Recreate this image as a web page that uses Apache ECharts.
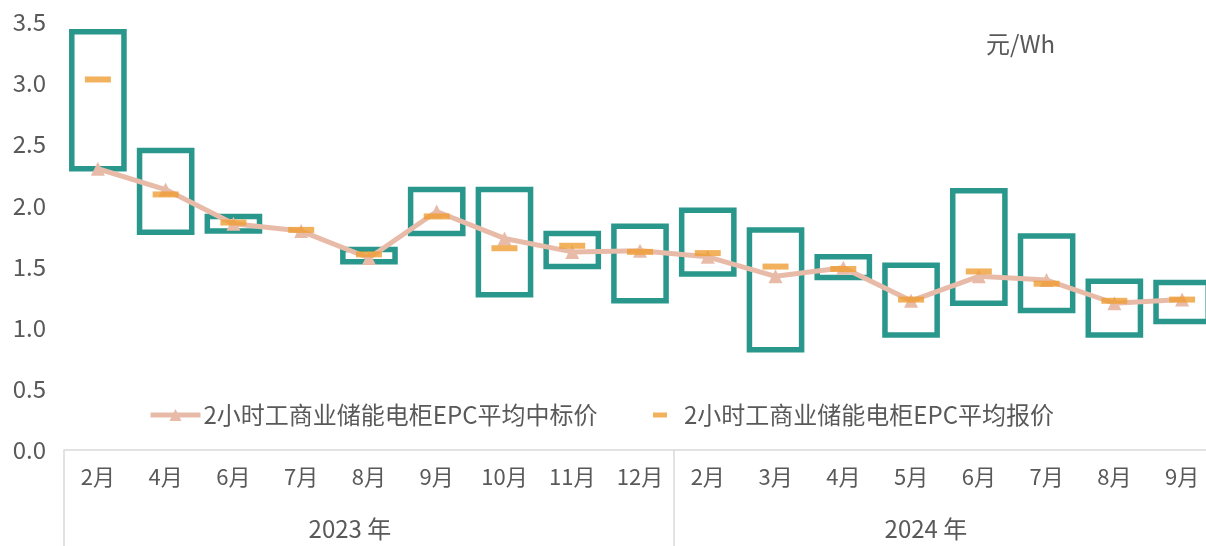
<!DOCTYPE html>
<html>
<head>
<meta charset="utf-8">
<script src="https://cdn.jsdelivr.net/npm/echarts@6/dist/echarts.min.js"></script>
<style>
  html, body { margin: 0; padding: 0; background: #fff; overflow: hidden; width: 1206px; height: 546px; }
  #chart { width: 1222px; height: 546px; }
</style>
</head>
<body>
<div id="chart"></div>
<script>
// ---- data ----
const months2023 = ['2月', '4月', '6月', '7月', '8月', '9月', '10月', '11月', '12月'];
const months2024 = ['2月', '3月', '4月', '5月', '6月', '7月', '8月', '9月'];
const yearLabels = ['2023 年', '2024 年'];
const rangeMax = [3.42, 2.45, 1.91, null, 1.64, 2.13, 2.13, 1.77, 1.83, 1.96, 1.80, 1.58, 1.51, 2.12, 1.75, 1.38, 1.37];
const rangeMin = [2.30, 1.78, 1.79, null, 1.54, 1.77, 1.27, 1.50, 1.22, 1.44, 0.82, 1.41, 0.94, 1.20, 1.14, 0.94, 1.05];
const avgBid   = [2.30, 2.13, 1.85, 1.79, 1.57, 1.95, 1.73, 1.62, 1.63, 1.58, 1.42, 1.49, 1.22, 1.42, 1.39, 1.20, 1.23];
const avgQuote = [3.03, 2.09, 1.86, 1.80, 1.60, 1.91, 1.65, 1.67, 1.62, 1.61, 1.50, 1.48, 1.23, 1.46, 1.36, 1.22, 1.23];
const bidName = '2小时工商业储能电柜EPC平均中标价';
const quoteName = '2小时工商业储能电柜EPC平均报价';
const unitText = '元/Wh';

// ---- derived ----
const categories = months2023.concat(months2024);
const groupSizes = [months2023.length, months2024.length];
const groupBounds = [0];
groupSizes.forEach(n => groupBounds.push(groupBounds[groupBounds.length - 1] + n));
const groupCenters = groupSizes.map((n, i) => groupBounds[i] + n / 2);
const boxData = categories.map((c, i) => [i, rangeMin[i], rangeMax[i]]);

const FONT = '"Noto Sans CJK SC", "Noto Sans", sans-serif';
const TXT = '#595959';
const TEAL = '#2A978C';
const ORANGE = '#EF9D33';
const PINK = '#E8BBA9';

const chart = echarts.init(document.getElementById('chart'), null, { renderer: 'canvas' });
chart.setOption({
  backgroundColor: '#fff',
  animation: false,
  textStyle: { fontFamily: FONT },
  title: {
    text: unitText, left: 981, top: 27,
    textStyle: { fontFamily: FONT, fontSize: 24, fontWeight: 'normal', color: TXT }
  },
  grid: { left: 64, top: 22, width: 1152, height: 428, containLabel: false },
  legend: [
    {
      data: [bidName], left: 143, top: 398, itemWidth: 50, itemHeight: 15,
      lineStyle: { width: 5, color: PINK },
      itemStyle: { color: PINK },
      textStyle: { fontFamily: FONT, fontSize: 24, color: TXT, padding: [0, 0, 0, -2] }
    },
    {
      data: [{ name: quoteName, icon: 'rect' }], left: 648, top: 398, itemWidth: 14, itemHeight: 5,
      textStyle: { fontFamily: FONT, fontSize: 24, color: TXT, padding: [0, 0, 0, 12] }
    }
  ],
  xAxis: [
    {
      type: 'category', data: categories, boundaryGap: true, position: 'bottom',
      axisLine: { show: true, lineStyle: { color: '#d9d9d9', width: 1.5 } },
      axisTick: { show: false },
      axisLabel: { interval: 0, margin: 16, fontFamily: FONT, fontSize: 22, color: TXT },
      splitLine: { show: false }
    },
    {
      type: 'value', min: 0, max: categories.length, position: 'bottom', gridIndex: 0,
      axisLine: { show: false },
      axisTick: { show: true, inside: false, length: 100, customValues: groupBounds, lineStyle: { color: '#d9d9d9', width: 1.5 } },
      axisLabel: {
        show: true, customValues: groupCenters, margin: 67, fontFamily: FONT, fontSize: 24, color: TXT,
        padding: [0, 38, 0, 0],
        formatter: v => { const i = groupCenters.indexOf(v); return i >= 0 ? yearLabels[i] : ''; }
      },
      splitLine: { show: false }
    }
  ],
  yAxis: {
    type: 'value', min: 0, max: 3.5, interval: 0.5,
    axisLine: { show: false }, axisTick: { show: false }, splitLine: { show: false },
    axisLabel: { margin: 18, fontFamily: FONT, fontSize: 24, color: TXT, formatter: v => v.toFixed(1) }
  },
  series: [
    {
      type: 'custom', name: 'range', xAxisIndex: 0, z: 2,
      data: boxData,
      encode: { x: 0, y: [1, 2] },
      renderItem: function (params, api) {
        const lo = api.value(1), hi = api.value(2);
        if (lo == null || hi == null || isNaN(lo) || isNaN(hi)) return null;
        const idx = api.value(0);
        const p1 = api.coord([idx, hi]);
        const p2 = api.coord([idx, lo]);
        const w = api.size([1, 0])[0] * 0.77;
        return {
          type: 'rect',
          shape: { x: p1[0] - w / 2, y: p1[1], width: w, height: p2[1] - p1[1] },
          style: { fill: 'none', stroke: TEAL, lineWidth: 5.5 }
        };
      }
    },
    {
      type: 'line', name: bidName, xAxisIndex: 0, data: avgBid, z: 3,
      symbol: 'triangle', symbolSize: 14, showSymbol: true,
      lineStyle: { color: PINK, width: 5 }, itemStyle: { color: PINK }
    },
    {
      type: 'scatter', name: quoteName, xAxisIndex: 0, data: avgQuote, z: 4,
      symbol: 'rect', symbolSize: [26, 6],
      itemStyle: { color: ORANGE }
    }
  ]
});
</script>
</body>
</html>
